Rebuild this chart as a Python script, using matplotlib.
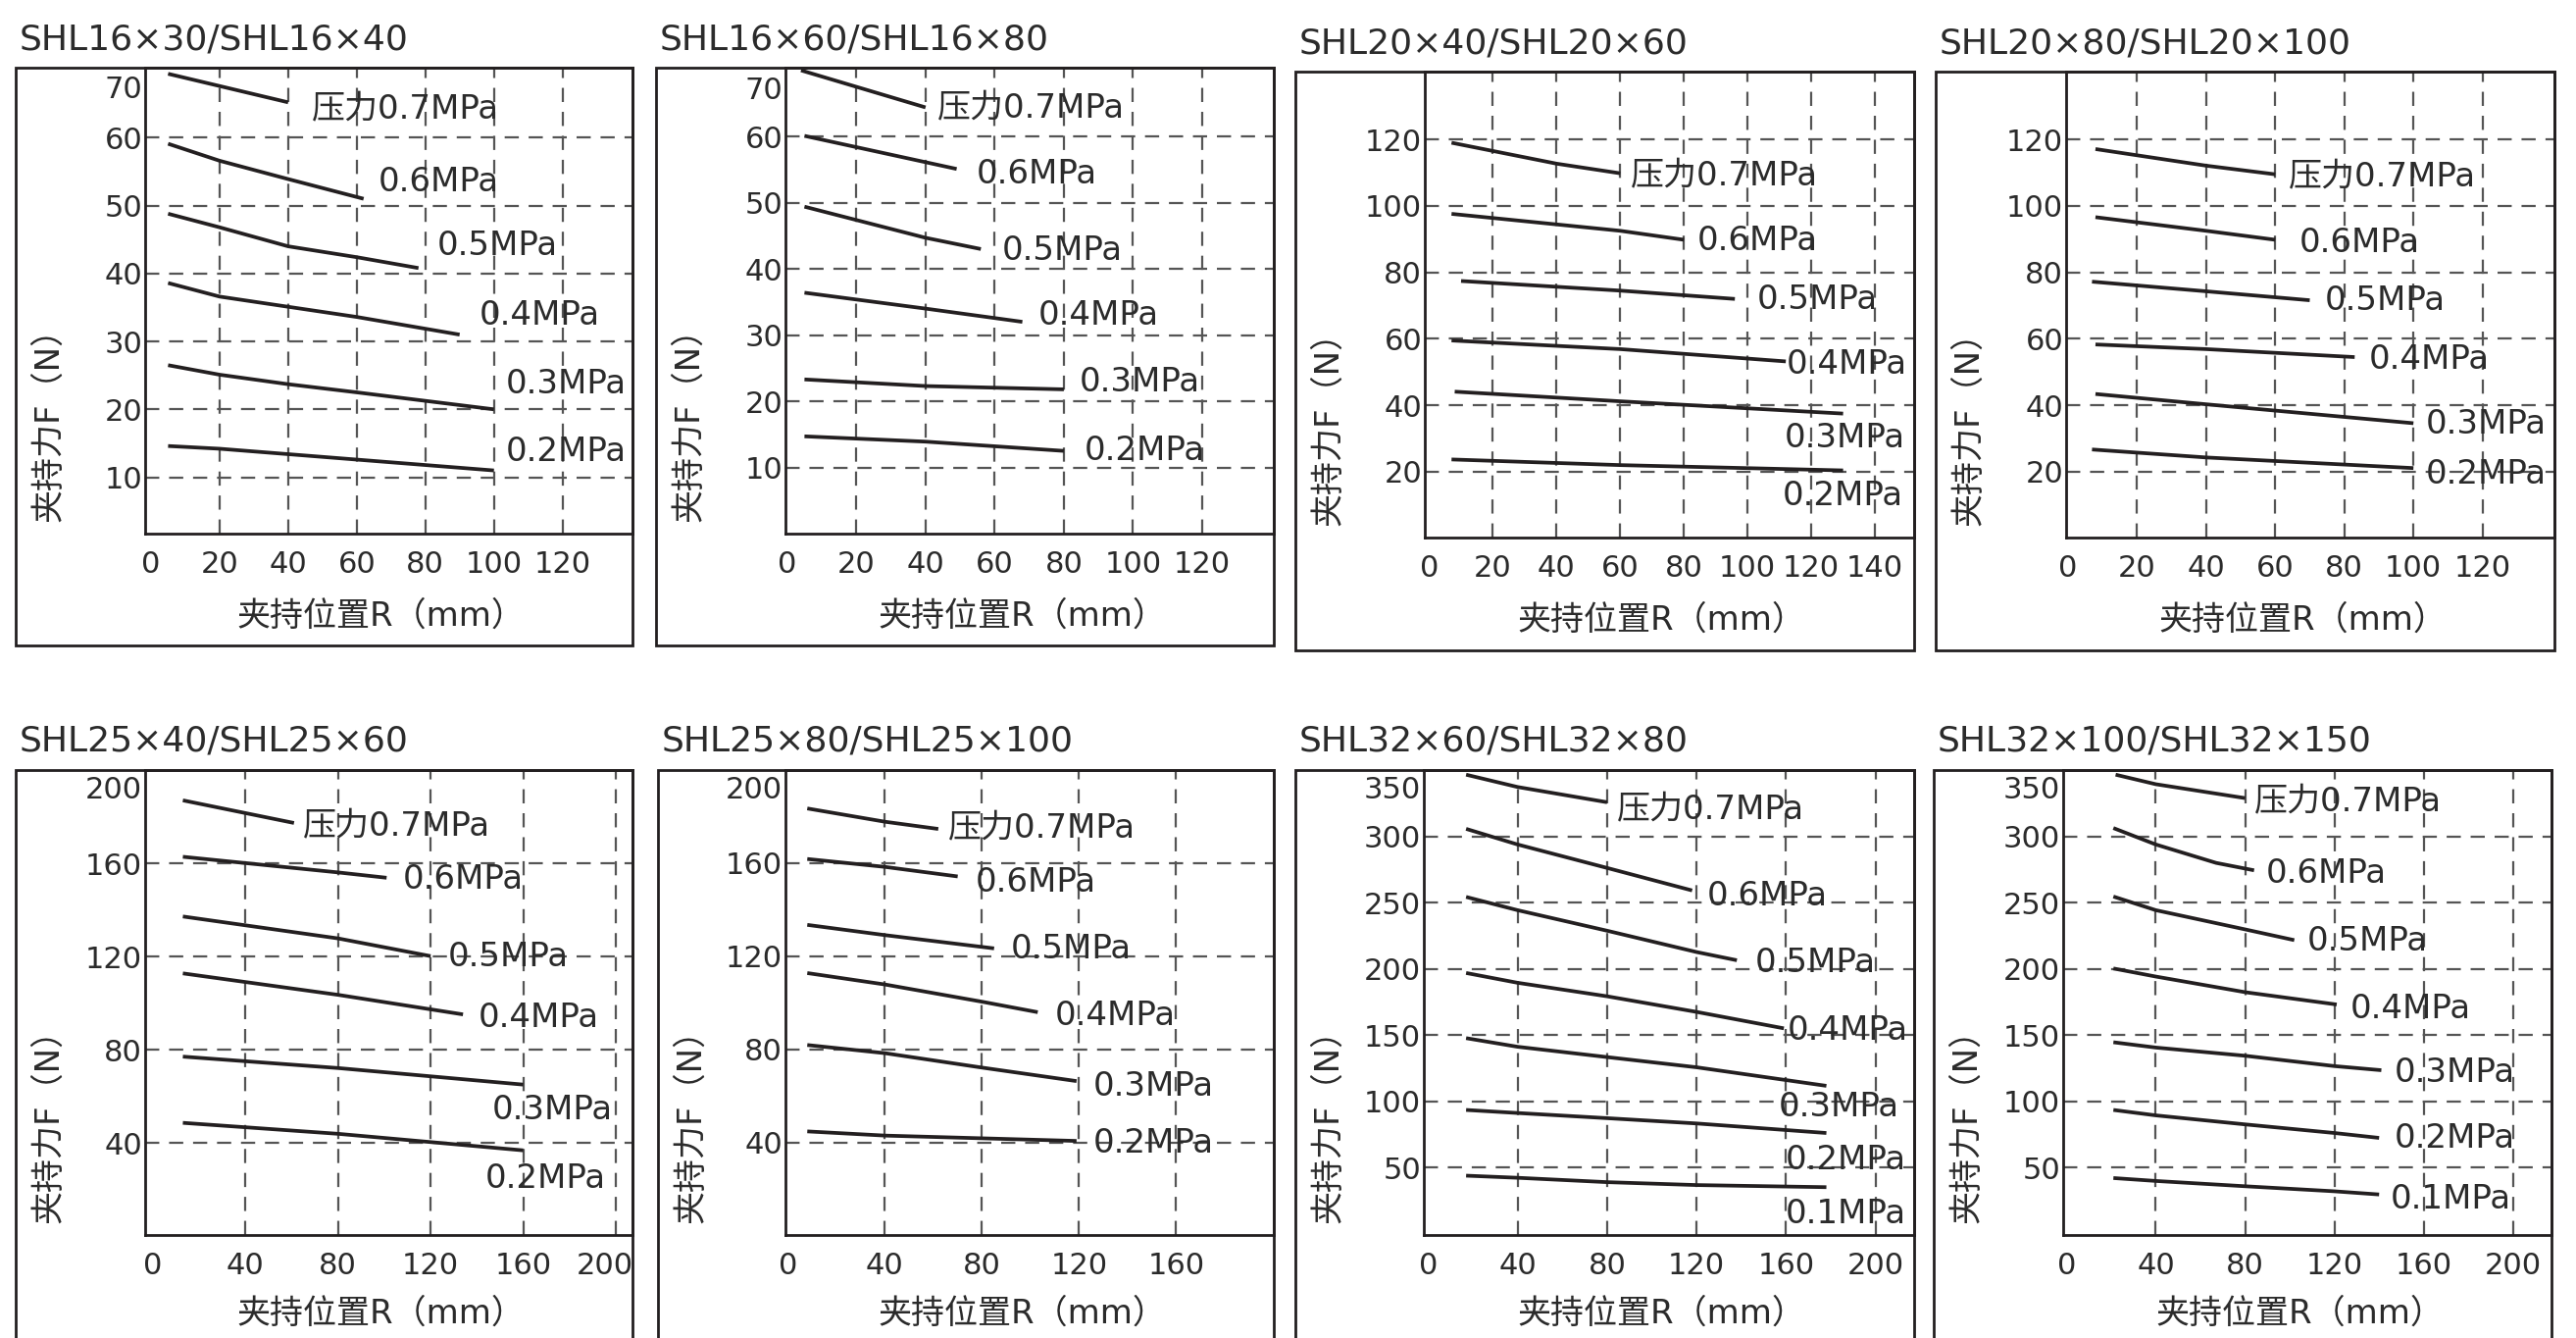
import matplotlib
matplotlib.use('Agg')
import matplotlib.pyplot as plt
from matplotlib.patches import Rectangle
from matplotlib.transforms import ScaledTranslation

plt.rcParams['font.family'] = ['DejaVu Sans', 'Noto Sans CJK SC']

# ---------------- data ----------------
xlabel = '夹持位置R（mm）'
ylabel = '夹持力F（N）'
labels6 = ['压力0.7MPa', '0.6MPa', '0.5MPa', '0.4MPa', '0.3MPa', '0.2MPa']
labels7 = labels6 + ['0.1MPa']

p1_title = 'SHL16×30/SHL16×40'
p1_xticks = [0, 20, 40, 60, 80, 100, 120]
p1_yticks = [10, 20, 30, 40, 50, 60, 70]
p1_r = [[5, 40], [5, 20, 40, 62], [5, 20, 40, 60, 78], [5, 20, 40, 60, 90],
        [5, 20, 40, 60, 100], [5, 20, 40, 100]]
p1_f = [[69.4, 65.2], [59.1, 56.6, 53.9, 51.0], [48.8, 46.8, 44.0, 42.4, 40.8],
        [38.6, 36.6, 35.1, 33.6, 31.0], [26.5, 25.1, 23.7, 22.5, 20.0],
        [14.6, 14.2, 13.4, 11.0]]

p2_title = 'SHL16×60/SHL16×80'
p2_xticks = [0, 20, 40, 60, 80, 100, 120]
p2_yticks = [10, 20, 30, 40, 50, 60, 70]
p2_r = [[4, 40], [5, 49], [5, 40, 56], [5, 40, 68], [5, 40, 80], [5, 40, 80]]
p2_f = [[70.0, 64.4], [60.1, 55.1], [49.4, 44.7, 43.0], [36.4, 34.0, 32.0],
        [23.3, 22.3, 21.8], [14.7, 13.9, 12.5]]

p3_title = 'SHL20×40/SHL20×60'
p3_xticks = [0, 20, 40, 60, 80, 100, 120, 140]
p3_yticks = [20, 40, 60, 80, 100, 120]
p3_r = [[7, 40, 60], [7, 60, 80], [10, 60, 96], [7, 60, 112], [8, 60, 130], [7, 60, 130]]
p3_f = [[119.0, 112.7, 109.8], [97.6, 92.5, 89.8], [77.4, 74.5, 72.0],
        [59.5, 56.9, 53.2], [44.1, 41.2, 37.5], [23.7, 22.0, 20.4]]

p4_title = 'SHL20×80/SHL20×100'
p4_xticks = [0, 20, 40, 60, 80, 100, 120]
p4_yticks = [20, 40, 60, 80, 100, 120]
p4_r = [[8, 40, 60], [8, 40, 60], [7, 40, 70], [8, 40, 83], [8, 40, 80, 100], [7, 40, 100]]
p4_f = [[117.1, 112.1, 109.5], [96.6, 92.5, 89.8], [77.2, 74.3, 71.6],
        [58.3, 56.9, 54.5], [43.4, 40.3, 36.5, 34.6], [26.7, 24.3, 21.1]]

p5_title = 'SHL25×40/SHL25×60'
p5_xticks = [0, 40, 80, 120, 160, 200]
p5_yticks = [40, 80, 120, 160, 200]
p5_r = [[13, 61], [13, 80, 101], [13, 80, 120], [13, 80, 134], [13, 80, 160], [13, 80, 160]]
p5_f = [[187.0, 177.3], [162.8, 156.1, 153.8], [137.2, 127.8, 120.2],
        [112.8, 103.6, 95.2], [77.1, 72.2, 65.1], [48.7, 44.0, 36.9]]

p6_title = 'SHL25×80/SHL25×100'
p6_xticks = [0, 40, 80, 120, 160]
p6_yticks = [40, 80, 120, 160, 200]
p6_r = [[8, 40, 62], [8, 40, 70], [8, 40, 85], [8, 40, 80, 103], [8, 40, 80, 119], [8, 40, 119]]
p6_f = [[183.5, 177.8, 174.7], [161.8, 158.4, 154.3], [133.5, 129.1, 123.4],
        [112.8, 107.9, 100.5, 96.0], [81.9, 78.4, 72.2, 66.4], [44.8, 43.0, 40.7]]

p7_title = 'SHL32×60/SHL32×80'
p7_xticks = [0, 40, 80, 120, 160, 200]
p7_yticks = [50, 100, 150, 200, 250, 300, 350]
p7_r = [[17, 40, 80], [17, 40, 80, 118], [17, 40, 80, 120, 138], [17, 40, 80, 120, 159],
        [17, 40, 80, 120, 178], [17, 40, 80, 120, 178], [17, 40, 80, 120, 178]]
p7_f = [[346.5, 337.2, 325.7], [305.6, 293.8, 276.1, 259.1],
        [254.2, 244.2, 228.7, 212.6, 206.4], [196.8, 189.4, 179.2, 167.4, 155.0],
        [147.6, 141.1, 133.3, 125.6, 111.6], [93.4, 91.1, 87.2, 83.2, 76.0],
        [43.8, 42.2, 38.9, 36.7, 35.1]]

p8_title = 'SHL32×100/SHL32×150'
p8_xticks = [0, 40, 80, 120, 160, 200]
p8_yticks = [50, 100, 150, 200, 250, 300, 350]
p8_r = [[22, 40, 80], [21, 40, 67, 84], [21, 40, 80, 102], [21, 40, 80, 121],
        [21, 40, 80, 120, 141], [21, 40, 80, 120, 140], [21, 40, 80, 120, 140]]
p8_f = [[346.5, 339.3, 328.8], [306.2, 293.8, 279.9, 274.3],
        [254.5, 244.2, 229.7, 221.6], [200.2, 194.1, 182.3, 173.0],
        [144.5, 140.5, 134.3, 126.5, 123.4], [93.4, 89.3, 82.5, 76.0, 72.3],
        [42.0, 39.8, 35.8, 32.0, 29.6]]

panels = [
    (p1_title, p1_xticks, p1_yticks, p1_r, p1_f, labels6),
    (p2_title, p2_xticks, p2_yticks, p2_r, p2_f, labels6),
    (p3_title, p3_xticks, p3_yticks, p3_r, p3_f, labels6),
    (p4_title, p4_xticks, p4_yticks, p4_r, p4_f, labels6),
    (p5_title, p5_xticks, p5_yticks, p5_r, p5_f, labels6),
    (p6_title, p6_xticks, p6_yticks, p6_r, p6_f, labels6),
    (p7_title, p7_xticks, p7_yticks, p7_r, p7_f, labels7),
    (p8_title, p8_xticks, p8_yticks, p8_r, p8_f, labels7),
]

# ---------------- layout (pixels) ----------------
W, H = 2627, 1364
layout = [
    dict(box=(16, 69, 645, 658), ax=(148, 544), xlim=(-1.7, 140.4), ylim=(1.7, 70.3),
         lab=[(46.8, 64.1), (66.4, 53.5), (83.5, 44.1), (95.6, 33.8), (103.4, 23.7), (103.4, 13.7)]),
    dict(box=(669, 69, 1299, 658), ax=(801, 544), xlim=(-0.5, 140.7), ylim=(0, 70.4),
         lab=[(43.3, 64.2), (54.6, 54.3), (62.0, 42.8), (72.7, 33.0), (84.4, 22.9), (85.9, 12.5)]),
    dict(box=(1321, 73, 1952, 663), ax=(1453, 548), xlim=(-1.4, 152.3), ylim=(0.2, 140.4),
         lab=[(63.4, 108.9), (84.1, 89.4), (102.8, 71.8), (112.2, 52.2), (111.6, 30.2), (110.9, 12.6)]),
    dict(box=(1974, 73, 2605, 663), ax=(2107, 548), xlim=(-0.5, 140.8), ylim=(0.2, 140.4),
         lab=[(64.0, 108.7), (67.0, 89.0), (74.2, 71.4), (87.1, 53.8), (103.5, 34.4), (103.5, 19.1)]),
    dict(box=(16, 785, 645, 1380), ax=(148, 1259), xlim=(-3.3, 207.2), ylim=(0.6, 200), xshift=-11,
         lab=[(64.7, 175.5), (107.9, 153.1), (127.4, 119.9), (140.5, 93.9), (146.4, 54.2), (143.7, 24.8)]),
    dict(box=(671, 785, 1299, 1380), ax=(801, 1259), xlim=(-1.0, 200.3), ylim=(0.3, 200),
         lab=[(65.9, 175.0), (77.3, 151.7), (91.8, 123.0), (110.2, 94.3), (125.9, 64.2), (125.9, 39.5)]),
    dict(box=(1321, 785, 1952, 1380), ax=(1452, 1259), xlim=(-1.9, 217.2), ylim=(-1, 350),
         lab=[(84.4, 320.0), (124.6, 255.1), (146.3, 204.6), (160.7, 153.5), (156.7, 95.5),
              (159.8, 55.3), (159.8, 15.0)]),
    dict(box=(1972, 785, 2602, 1380), ax=(2104, 1259), xlim=(-1.5, 217.2), ylim=(-1, 350),
         lab=[(83.9, 325.7), (89.5, 272.1), (107.9, 221.0), (126.9, 169.9), (146.7, 121.9),
              (146.7, 72.3), (145.2, 25.8)]),
]

ink = '#231f20'
txt = '#2b2b2b'
gridc = '#555555'

fig = plt.figure(figsize=(W / 100, H / 100), dpi=100)


def fx(px):
    return px / W


def fy(py):
    return 1 - py / H


for (title, xticks, yticks, rr, ff, labs), lo in zip(panels, layout):
    bl, bt, br, bb = lo['box']
    al, ab = lo['ax']
    # outer frame
    fig.add_artist(Rectangle((fx(bl), fy(bb)), fx(br - bl), (bb - bt) / H,
                             transform=fig.transFigure, fill=False, lw=2.0, ec=ink))
    ax = fig.add_axes([fx(al), fy(ab), fx(br - al), (ab - bt) / H])
    ax.set_xlim(*lo['xlim'])
    ax.set_ylim(*lo['ylim'])
    for s in ax.spines.values():
        s.set_linewidth(2.0)
        s.set_color(ink)

    # dashed grid (none on the axis lines themselves)
    for v in xticks:
        if v > 0 and v < lo['xlim'][1] - 1:
            ax.axvline(v, color=gridc, lw=1.6, ls=(0, (6.5, 4.5)), zorder=1)
    for v in yticks:
        if lo['ylim'][0] + 1 < v < lo['ylim'][1] - 1:
            ax.axhline(v, color=gridc, lw=1.6, ls=(0, (6.5, 4.5)), zorder=1)

    ax.set_xticks(xticks)
    ax.set_yticks(yticks)
    ax.tick_params(axis='x', length=0, pad=12, labelsize=22, labelcolor=txt)
    ax.tick_params(axis='y', length=0, pad=2, labelsize=22, labelcolor=txt)
    if yticks[-1] >= lo['ylim'][1] - 1:
        tl = ax.get_yticklabels()[-1]
        tl.set_va('top')
        tl.set_transform(tl.get_transform() + ScaledTranslation(0, -0.06, fig.dpi_scale_trans))
    if 'xshift' in lo:
        tl = ax.get_xticklabels()[-1]
        tl.set_transform(tl.get_transform() + ScaledTranslation(lo['xshift'] / 100, 0, fig.dpi_scale_trans))

    for r, f, lab, (lx, ly) in zip(rr, ff, labs, lo['lab']):
        ax.plot(r, f, color=ink, lw=2.7, zorder=3, solid_capstyle='butt')
        ax.text(lx, ly, lab, ha='left', va='center', fontsize=24.5, color=txt, zorder=4)

    fig.text(fx(bl + 4), fy(bt - 19), title, ha='left', va='baseline', fontsize=26, color=txt)
    off = 84 if bt < 400 else 80
    fig.text(fx((al + br) / 2 - 8), fy(ab + off), xlabel, ha='center', va='center',
             fontsize=24.5, color=txt)
    fig.text(fx(bl + 34), fy(ab - 12), ylabel, ha='center', va='bottom', rotation=90,
             fontsize=24.5, color=txt)

fig.savefig('out.png', dpi=100)
